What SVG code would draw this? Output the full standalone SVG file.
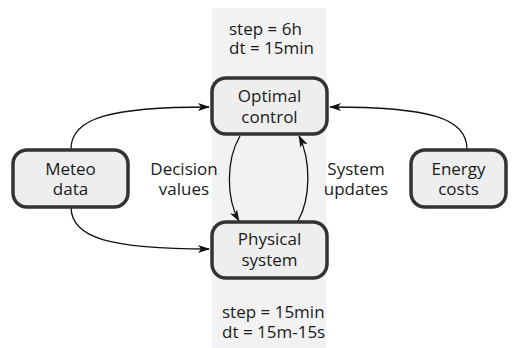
<svg xmlns="http://www.w3.org/2000/svg" width="516" height="348" viewBox="0 0 516 348">
<defs>
<style>
.box{fill:#eeeeee;stroke:#333333;stroke-width:3.5}
.t{font-family:"Open Sans","Noto Sans",sans-serif;font-size:17px;fill:#1a1a1a;text-anchor:middle}
.s{text-anchor:start}
.c{fill:none;stroke:#111111;stroke-width:1.3}
</style>
<marker id="ah" viewBox="0 0 12 8" refX="11" refY="4" markerWidth="12" markerHeight="8" markerUnits="userSpaceOnUse" orient="auto">
<path d="M0,0 L12,4 L0,8 L3,4 Z" fill="#111111"/>
</marker>
</defs>
<rect x="212" y="8" width="114" height="340" fill="#f2f2f2"/>
<g id="connectors">
<path class="c" d="M71,149 C71,118 110,107 209,107" marker-end="url(#ah)"/>
<path class="c" d="M467,149 C467,118 430,107 330,107" marker-end="url(#ah)"/>
<path class="c" d="M71,207 C71,238 110,249 209,249" marker-end="url(#ah)"/>
<path class="c" d="M240,136 C226,160 226,198 239,221" marker-end="url(#ah)"/>
<path class="c" d="M298,221 C311,198 311,160 299,136" marker-end="url(#ah)"/>
</g>
<g id="timing-top">
<text class="t s" x="229" y="35"><tspan x="229">step = 6h</tspan><tspan x="229" dy="19">dt = 15min</tspan></text>
</g>
<g id="timing-bottom">
<text class="t s" x="222" y="318"><tspan x="222">step = 15min</tspan><tspan x="222" dy="20">dt = 15m-15s</tspan></text>
</g>
<g id="optimal-control">
<rect class="box" x="212" y="78" width="115" height="56" rx="14"/>
<text class="t" x="269.5" y="102"><tspan x="269.5">Optimal</tspan><tspan x="269.5" dy="21">control</tspan></text>
</g>
<g id="physical-system">
<rect class="box" x="212" y="222" width="115" height="56" rx="14"/>
<text class="t" x="269.5" y="245"><tspan x="269.5">Physical</tspan><tspan x="269.5" dy="21">system</tspan></text>
</g>
<g id="meteo-data">
<rect class="box" x="13" y="150" width="115" height="57" rx="14"/>
<text class="t" x="70.5" y="175"><tspan x="70.5">Meteo</tspan><tspan x="70.5" dy="20">data</tspan></text>
</g>
<g id="energy-costs">
<rect class="box" x="411" y="150" width="95" height="57" rx="14"/>
<text class="t" x="458.5" y="175"><tspan x="458.5">Energy</tspan><tspan x="458.5" dy="20">costs</tspan></text>
</g>
<g id="labels">
<text class="t" x="184" y="175"><tspan x="184">Decision</tspan><tspan x="184" dy="20">values</tspan></text>
<text class="t" x="356" y="175"><tspan x="356">System</tspan><tspan x="356" dy="20">updates</tspan></text>
</g>
</svg>
